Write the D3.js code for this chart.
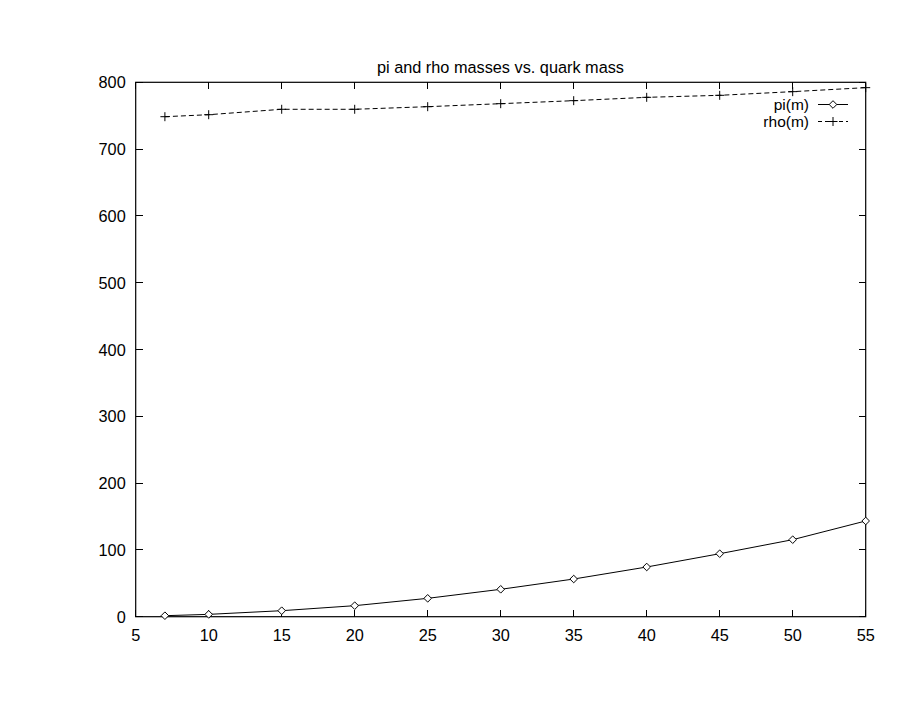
<!DOCTYPE html>
<html><head><meta charset="utf-8">
<script src="https://cdn.jsdelivr.net/npm/d3@7"></script>
<style>body{margin:0;background:#fff}svg{display:block}text{font-family:"Liberation Sans",Arial,sans-serif;fill:#000}</style>
</head><body>
<script>
const quarkMass = [7,10,15,20,25,30,35,40,45,50,55];
const piMass = [1.5,3.5,9,16.5,27.5,41,56.4,74.4,94.3,115.3,143.3];
const rhoMass = [748.5,751.5,759.6,759.6,763.5,768,772.5,777.5,780.5,786,792];
const xTicks = [5,10,15,20,25,30,35,40,45,50,55];
const yTicks = [0,100,200,300,400,500,600,700,800];
const title = "pi and rho masses vs. quark mass";
const seriesNames = ["pi(m)","rho(m)"];

const W=918,H=709;
const L=135.7,R=865.7,T=82.3,B=616.7;
const svg=d3.select("body").append("svg").attr("width",W).attr("height",H);
const x=d3.scaleLinear().domain([5,55]).range([L,R]);
const y=d3.scaleLinear().domain([0,800]).range([B,T]);
const fs=16.3;

const tl=7;
const g=svg.append("g").attr("stroke","#000").attr("stroke-width",1).attr("shape-rendering","crispEdges");
xTicks.forEach(v=>{
  g.append("line").attr("x1",x(v)).attr("x2",x(v)).attr("y1",B).attr("y2",B-tl);
  g.append("line").attr("x1",x(v)).attr("x2",x(v)).attr("y1",T).attr("y2",T+tl);
});
yTicks.forEach(v=>{
  g.append("line").attr("x1",L).attr("x2",L+tl).attr("y1",y(v)).attr("y2",y(v));
  g.append("line").attr("x1",R).attr("x2",R-tl).attr("y1",y(v)).attr("y2",y(v));
});
svg.append("rect").attr("x",L).attr("y",T).attr("width",R-L).attr("height",B-T)
  .attr("fill","none").attr("stroke","#000").attr("stroke-width",1.2);

svg.append("g").selectAll("text").data(xTicks).join("text")
  .attr("x",d=>x(d)).attr("y",B+24.5).attr("text-anchor","middle").attr("font-size",fs).text(d=>d);
svg.append("g").selectAll("text").data(yTicks).join("text")
  .attr("x",L-10).attr("y",d=>y(d)+6).attr("text-anchor","end").attr("font-size",fs).text(d=>d);

svg.append("text").attr("x",500.5).attr("y",73).attr("text-anchor","middle").attr("font-size",fs).text(title);

const line=d3.line();
const piPts=quarkMass.map((m,i)=>[x(m),y(piMass[i])]);
const rhoPts=quarkMass.map((m,i)=>[x(m),y(rhoMass[i])]);
svg.append("path").attr("d",line(piPts)).attr("fill","none").attr("stroke","#000").attr("stroke-width",1);
svg.append("path").attr("d",line(rhoPts)).attr("fill","none").attr("stroke","#000").attr("stroke-width",1).attr("stroke-dasharray","5,3");

function diamond(cx,cy){
  const s=3.8;
  svg.append("path").attr("d",`M${cx},${cy-s}L${cx+s},${cy}L${cx},${cy+s}L${cx-s},${cy}Z`)
    .attr("fill","#fff").attr("stroke","#000").attr("stroke-width",1);
}
function plus(cx,cy){
  const s=4.5;
  svg.append("path").attr("d",`M${cx-s},${cy}H${cx+s}M${cx},${cy-s}V${cy+s}`)
    .attr("fill","none").attr("stroke","#000").attr("stroke-width",1);
}
piPts.forEach(p=>diamond(p[0],p[1]));
rhoPts.forEach(p=>plus(p[0],p[1]));

const lfs=15.5;
const lx1=818,lx2=848,ly=[104.5,121.5];
svg.append("text").attr("x",809).attr("y",ly[0]+5.5).attr("text-anchor","end").attr("font-size",lfs).text(seriesNames[0]);
svg.append("text").attr("x",809).attr("y",ly[1]+5.5).attr("text-anchor","end").attr("font-size",lfs).text(seriesNames[1]);
svg.append("line").attr("x1",lx1).attr("x2",lx2).attr("y1",ly[0]).attr("y2",ly[0]).attr("stroke","#000");
svg.append("line").attr("x1",lx1).attr("x2",lx2).attr("y1",ly[1]).attr("y2",ly[1]).attr("stroke","#000").attr("stroke-dasharray","4,3");
diamond((lx1+lx2)/2,ly[0]);
plus((lx1+lx2)/2,ly[1]);
</script>
</body></html>
